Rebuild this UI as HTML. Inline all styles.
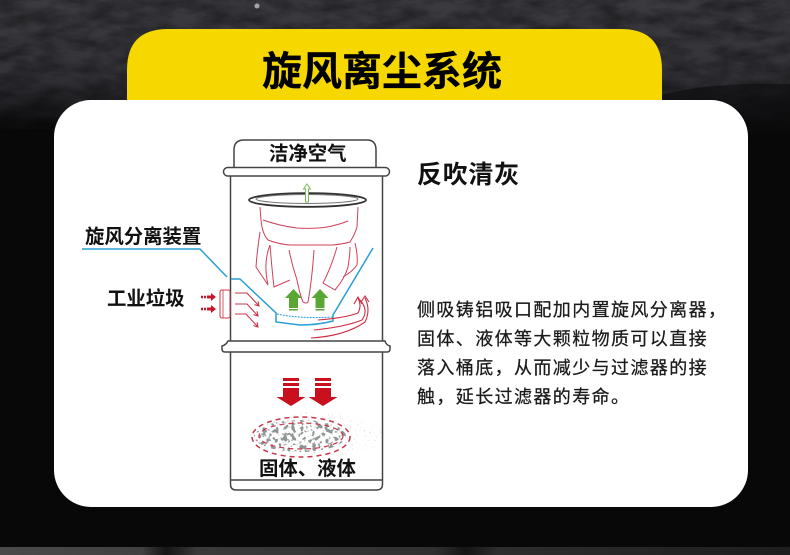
<!DOCTYPE html>
<html lang="zh"><head><meta charset="utf-8"><style>
html,body{margin:0;padding:0;background:#080808}
svg{display:block}
text{font-family:"Liberation Sans","Noto Sans CJK SC",sans-serif}
</style></head><body>
<svg width="790" height="555" viewBox="0 0 790 555" xmlns="http://www.w3.org/2000/svg">
<defs>
<linearGradient id="bg" x1="0" y1="0" x2="0" y2="1"><stop offset="0" stop-color="#3a3a3f"/><stop offset=".55" stop-color="#333338"/><stop offset=".75" stop-color="#242428"/><stop offset="1" stop-color="#080808"/></linearGradient>
<linearGradient id="band" x1="0" y1="0" x2="1" y2="0"><stop offset="0" stop-color="#4a4a4a"/><stop offset=".18" stop-color="#404040"/><stop offset=".21" stop-color="#151515"/><stop offset=".25" stop-color="#3a3a3a"/><stop offset=".55" stop-color="#303030"/><stop offset=".59" stop-color="#151515"/><stop offset=".63" stop-color="#2d2d2d"/><stop offset="1" stop-color="#1e1e1e"/></linearGradient>
<filter id="n" x="0" y="0" width="100%" height="100%"><feTurbulence type="fractalNoise" baseFrequency=".035 .08" numOctaves="5" seed="11"/><feColorMatrix values="0 0 0 0 0 0 0 0 0 0 0 0 0 0 0 1.2 0 0 0 -.35"/></filter>
<filter id="g" x="0" y="0" width="100%" height="100%"><feTurbulence type="fractalNoise" baseFrequency=".24" numOctaves="2" seed="4"/><feColorMatrix values="0 0 0 0 .27 0 0 0 0 .3 0 0 0 0 .3 10 0 0 0 -5.2"/></filter>
<filter id="g2" x="0" y="0" width="100%" height="100%"><feTurbulence type="fractalNoise" baseFrequency=".5" numOctaves="2" seed="9"/><feColorMatrix values="0 0 0 0 .6 0 0 0 0 .6 0 0 0 0 .6 9 0 0 0 -6.2"/></filter>
<clipPath id="ce"><ellipse cx="300" cy="436" rx="46" ry="16"/></clipPath>
<clipPath id="ce2"><ellipse cx="322" cy="435" rx="60" ry="24"/></clipPath>
<marker id="ar" viewBox="0 0 8 8" refX="6" refY="4" markerWidth="6" markerHeight="6" orient="auto"><path d="M1 1L6 4L1 7" fill="none" stroke="#c8374a" stroke-width="1.3"/></marker>
<g id="gup"><path d="M0 -10L8.5 -1H4.500V9H-4.500V-1H-8.500Z" fill="#5aa632"/><rect x="-4.500" y="10" width="9" height="1.500" fill="#5aa632"/></g>
<g id="rdn"><rect x="-8" y="0" width="16" height="3" fill="#c8101e"/><rect x="-8" y="5" width="16" height="3" fill="#c8101e"/><path d="M-8 10H8V19H14.500L0 28L-14.500 19H-8Z" fill="#c8101e"/></g>
<g id="rr"><path d="M0 -1.200h2v2.400H0zM3 -1.200h2v2.400H3zM6 -1.500h4V-4L15 0L10 4V1.500H6z" fill="#c8172c"/></g>
</defs>
<rect width="790" height="555" fill="#080808"/>
<rect width="790" height="132" fill="url(#bg)"/>
<rect width="790" height="132" filter="url(#n)" opacity=".6"/>
<path d="M662 95Q710 82 790 84V132H662Z" fill="#0b0b0d" opacity=".6"/>
<circle cx="257" cy="6" r="2.500" fill="#a5a5a5"/>
<rect y="547" width="790" height="8" fill="url(#band)"/>
<path d="M127 100V70Q127 29 168 29H621Q662 29 662 70V100Z" fill="#f6d800"/>
<rect x="54" y="100" width="694" height="407" rx="37" fill="#fff"/>
<text x="262" y="85" font-size="40" font-weight="700" fill="#000" textLength="240" lengthAdjust="spacingAndGlyphs" stroke="#000" stroke-width=".3">旋风离尘系统</text>
<text x="417" y="183" font-size="25" font-weight="700" fill="#111" letter-spacing=".7">反吹清灰</text>
<g font-size="18" fill="#1a1a1a" letter-spacing="1.400" stroke="#1a1a1a" stroke-width=".25">
<text x="417" y="316">侧吸铸铝吸口配加内置旋风分离器，</text>
<text x="417" y="345">固体、液体等大颗粒物质可以直接</text>
<text x="417" y="374">落入桶底，从而减少与过滤器的接</text>
<text x="417" y="403">触，延长过滤器的寿命。</text>
</g>
<g fill="none" stroke="#444" stroke-width="1.500">
<path d="M234 167V150Q234 140 244 140H367Q376 140 376 150V167"/>
<rect x="223.500" y="167.500" width="166" height="8.500" rx="4.200" fill="#fff"/>
<path d="M230.500 176V341M382.500 176V341"/>
<path d="M228 341H385Q386 345 390 346V349Q390 352 387 352H225Q222 352 222 349V346Q226 345 228 341Z" fill="#fff"/>
<path d="M230.500 352V484Q230.500 490 236 490H377Q382.500 490 382.500 484V352"/>
<path d="M230.500 480H382.500"/>
</g>
<g font-size="19.400" font-weight="700" fill="#111">
<text x="269" y="160">洁净空气</text>
<text x="85" y="243">旋风分离装置</text>
<text x="107" y="305">工业垃圾</text>
<text x="259" y="475">固体、液体</text>
</g>
<ellipse cx="307.500" cy="200" rx="58.500" ry="6.800" fill="none" stroke="#333" stroke-width="1.800"/>
<ellipse cx="307" cy="199" rx="51" ry="4.500" fill="none" stroke="#777" stroke-width="1"/>
<path d="M307 184L310.500 189H308.500V202H305.500V189H303.500Z" fill="#fff" stroke="#78b85a" stroke-width="1"/>
<g fill="none" stroke="#cf4058" stroke-width="1">
<path d="M260 207Q261 222 262 227Q264 236 268 240Q278 244 290 245H333Q343 244 350 242Q355 234 357 227L358 207"/>
<path d="M263 220Q280 226 297 228Q315 229 327 227Q338 225 348 221"/>
<path d="M260 232Q257 252 256 267L268 285Q263 262 270 245"/>
<path d="M270 245Q272 270 274 287L290 280"/>
<path d="M289 250Q292 265 297 280Q300 295 303 302Q306 304 308 302Q312 280 314 250"/>
<path d="M337 247Q331 268 323 283L335 290Q345 278 348 267Q350 255 350 247"/>
<path d="M355 243Q358 255 357 265Q352 272 343 277"/>
</g>
<use href="#gup" x="293.500" y="299"/><use href="#gup" x="320" y="299"/>
<g fill="none" stroke="#2a9fd6" stroke-width="1.500">
<path d="M82 249H200L227 277"/>
<path d="M231 279H240L276 313V322L300 325Q318 325 333 321V315L373 248"/>
<path d="M277 314Q300 319 333 317" stroke-dasharray="2 1" stroke-width="1"/>
</g>
<rect x="220" y="290" width="10" height="28" rx="2" fill="#fff" stroke="#c8374a" stroke-width="1"/>
<path d="M223 290V318" stroke="#c8374a" stroke-width=".8"/>
<use href="#rr" x="201" y="297"/><use href="#rr" x="201" y="309"/>
<g fill="none" stroke="#c8374a" stroke-width="1.100" marker-end="url(#ar)">
<path d="M235 293H247L259 306"/>
<path d="M235 304H247L258 316"/>
<path d="M235 314H246L258 327"/>
</g>
<g fill="none" stroke="#cf2f45" stroke-width="1.100">
<path d="M318 320Q345 318 358 313Q362 306 358 298"/>
<path d="M314 330Q345 327 362 320Q369 310 360 300"/>
<path d="M311 338Q345 336 365 322Q371 310 365 298"/>
<path d="M354 304L358 297L362 304M361 302L365 296L369 302"/>
</g>
<use href="#rdn" x="291" y="378"/><use href="#rdn" x="323" y="378"/>
<rect x="250" y="412" width="135" height="46" filter="url(#g2)" clip-path="url(#ce2)"/>
<rect x="254" y="420" width="94" height="32" filter="url(#g)" clip-path="url(#ce)"/>
<g fill="none" stroke="#c8374a" stroke-width="1.500" stroke-dasharray="5 4">
<ellipse cx="301" cy="437" rx="49" ry="20"/>
<ellipse cx="301" cy="436" rx="42" ry="13" stroke-width="1.200"/>
</g>
</svg>
</body></html>
